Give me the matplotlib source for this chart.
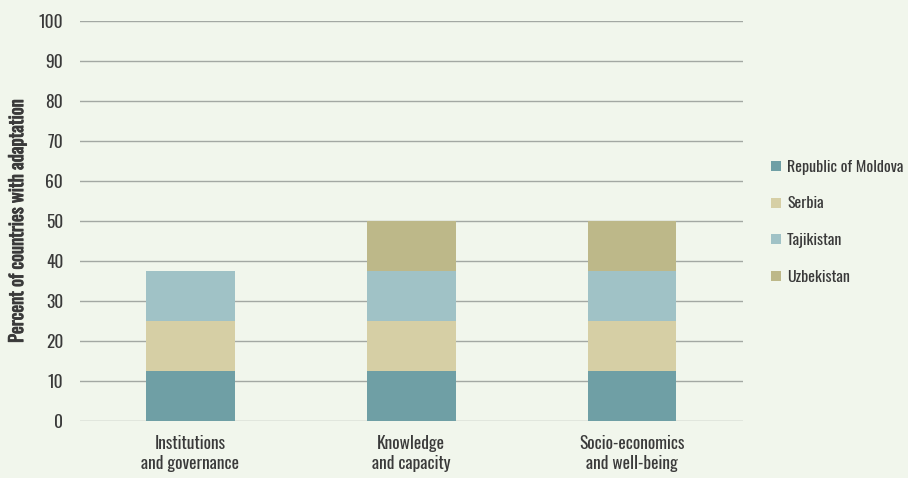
import matplotlib
matplotlib.use("Agg")
import matplotlib.pyplot as plt
import matplotlib.patheffects as pe
import numpy as np
from matplotlib import font_manager

categories = ["Institutions\nand governance", "Knowledge\nand capacity", "Socio-economics\nand well-being"]
series_names = ["Republic of Moldova", "Serbia", "Tajikistan", "Uzbekistan"]
moldova = [12.5, 12.5, 12.5]
serbia = [12.5, 12.5, 12.5]
tajikistan = [12.5, 12.5, 12.5]
uzbekistan = [0, 12.5, 12.5]
yticks = [0, 10, 20, 30, 40, 50, 60, 70, 80, 90, 100]

colors = ["#6f9fa5", "#d6cfa5", "#a0c2c6", "#bdb889"]
bg = "#f1f6ec"
txt = "#3a3a3a"

names = {f.name for f in font_manager.fontManager.ttflist}
cands = ["Oswald", "Roboto Condensed", "Pathway Gothic One", "Fjalla One", "Archivo Narrow", "PT Sans Narrow", "DejaVu Sans"]
fam = [f for f in cands if f in names][:1] + ["DejaVu Sans"]
plt.rcParams['font.family'] = fam

fig = plt.figure(figsize=(9.08, 4.78), dpi=100, facecolor=bg)
ax = fig.add_axes([0.088, 0.119, 0.730, 0.837], facecolor=bg)

x = np.arange(len(categories))
bottom = np.zeros(len(categories))
handles = []
for name, vals, c in zip(series_names, [moldova, serbia, tajikistan, uzbekistan], colors):
    vals = np.array(vals, dtype=float)
    b = ax.bar(x, vals, 0.4, bottom=bottom, color=c, label=name, zorder=3)
    handles.append(b)
    bottom += vals

ax.set_xlim(-0.5, 2.5)
ax.set_ylim(0, 100)
ax.set_yticks(yticks)
ax.set_yticklabels([str(t) for t in yticks], fontsize=12.5, color=txt)
ax.set_xticks(x)
ax.set_xticklabels(categories, fontsize=12.5, color=txt, linespacing=1.2)
ax.tick_params(axis='both', length=0)
ax.tick_params(axis='y', pad=12)
ax.tick_params(axis='x', pad=10)
ax.yaxis.grid(True, color="#a3a8a3", linewidth=1.0, zorder=0)
ax.set_axisbelow(True)
for s in ax.spines.values():
    s.set_visible(False)
yl = ax.set_ylabel("Percent of countries with adaptation", fontsize=13.3, color=txt, labelpad=9)
yl.set_path_effects([pe.withStroke(linewidth=0.6, foreground=txt)])

leg = fig.legend(handles=handles, labels=series_names, loc='upper left', bbox_to_anchor=(0.842, 0.679),
                 frameon=False, fontsize=11.5, labelcolor=txt, handlelength=0.6, handleheight=0.6,
                 handletextpad=0.4, labelspacing=1.35, borderaxespad=0)

fig.savefig("out.png", dpi=100, facecolor=bg)
